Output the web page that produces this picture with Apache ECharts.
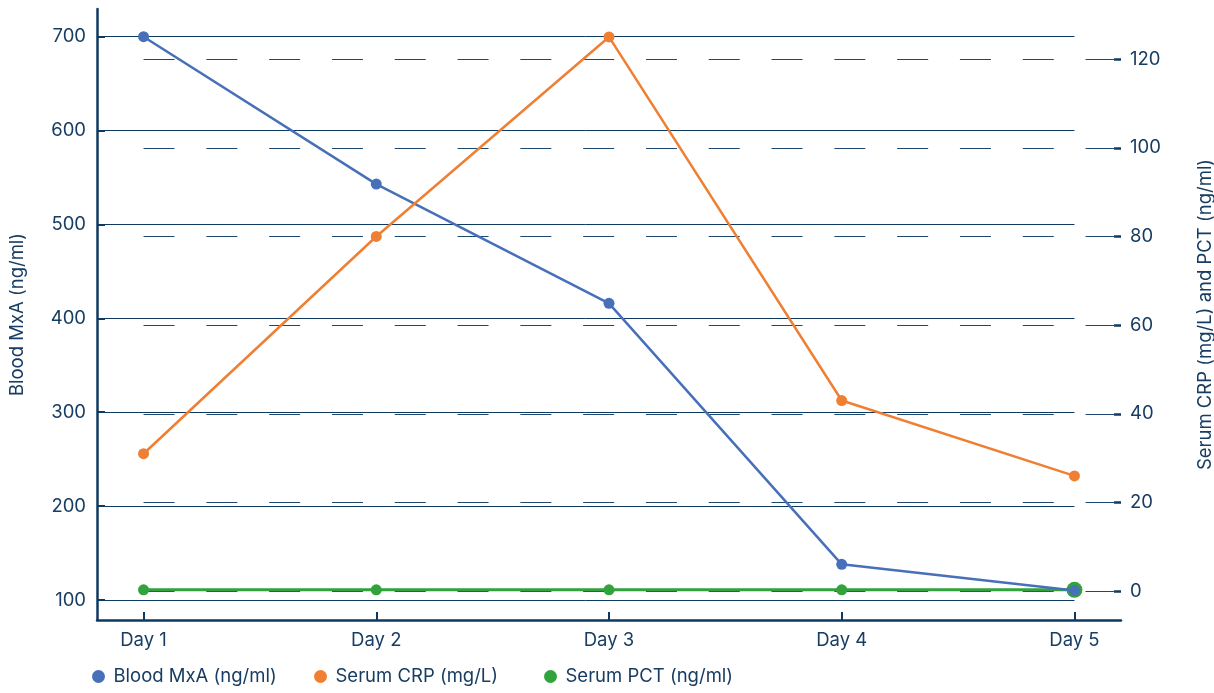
<!DOCTYPE html>
<html>
<head>
<meta charset="utf-8">
<script src="https://cdn.jsdelivr.net/npm/echarts@6/dist/echarts.min.js"></script>
<style>
html,body{margin:0;padding:0;background:#fff;}
#chart{width:1214px;height:693px;}
</style>
</head>
<body>
<div id="chart"></div>
<script>
const days = ['Day 1', 'Day 2', 'Day 3', 'Day 4', 'Day 5'];
const seriesNames = ['Blood MxA (ng/ml)', 'Serum CRP (mg/L)', 'Serum PCT (ng/ml)'];
const mxa = [700, 543, 416, 138, 110];
const crp = [31, 80, 125, 43, 26];
const pct = [0.3, 0.3, 0.3, 0.3, 0.3];
const leftTicks = [100, 200, 300, 400, 500, 600, 700];
const rightTicks = [0, 20, 40, 60, 80, 100, 120];
const dayPos = [1, 2, 3, 4, 5];

const X_MIN = 0.8, X_MAX = 5.2;
const NAVY = '#0f3a60';
const TEXT = '#183d62';
const FONT = 'Inter, "Noto Sans", sans-serif';
const FS = 18.5;
const legendLefts = [87, 309, 539];

const chart = echarts.init(document.getElementById('chart'));

const pts = arr => arr.map((v, i) => [dayPos[i], v]);

const option = {
  animation: false,
  grid: { left: 97, right: 93, top: 9, bottom: 73, containLabel: false, outerBoundsMode: 'none' },
  legend: seriesNames.map((n, i) => ({
    left: legendLefts[i], bottom: 2,
    itemWidth: 20, itemHeight: 13,
    icon: 'circle',
    textStyle: { color: TEXT, fontSize: FS, fontFamily: FONT },
    data: [n]
  })),
  xAxis: {
    type: 'value', min: X_MIN, max: X_MAX,
    axisLine: { show: true, onZero: false, lineStyle: { color: NAVY, width: 2.5 } },
    axisTick: { show: true, inside: true, length: 8, customValues: dayPos, lineStyle: { color: NAVY, width: 2 } },
    axisLabel: { customValues: dayPos, color: TEXT, fontSize: FS, fontFamily: FONT, margin: 11,
      formatter: v => days[Math.round(v) - 1] },
    splitLine: { show: false }
  },
  yAxis: [
    {
      type: 'value', position: 'left', min: 78.7, max: 729.5,
      name: seriesNames[0], nameLocation: 'middle', nameGap: 70,
      nameTextStyle: { color: TEXT, fontSize: FS, fontFamily: FONT },
      axisLine: { show: true, onZero: false, lineStyle: { color: NAVY, width: 2.5 } },
      axisTick: { show: true, inside: true, length: 8, customValues: leftTicks, lineStyle: { color: NAVY, width: 2 } },
      axisLabel: { customValues: leftTicks, color: TEXT, fontSize: FS, fontFamily: FONT, margin: 11 },
      splitLine: { show: false }
    },
    {
      type: 'value', position: 'right', min: -6.5, max: 131.3,
      name: 'Serum CRP (mg/L) and PCT (ng/ml)', nameLocation: 'middle', nameGap: 75,
      nameTextStyle: { color: TEXT, fontSize: FS, fontFamily: FONT },
      axisLine: { show: false, onZero: false },
      axisTick: { show: true, inside: true, length: 7, customValues: rightTicks, lineStyle: { color: NAVY, width: 2.5 } },
      axisLabel: { customValues: rightTicks, color: TEXT, fontSize: FS, fontFamily: FONT, margin: 9 },
      splitLine: { show: false }
    }
  ],
  series: [
    {
      name: seriesNames[0], type: 'line', yAxisIndex: 0, z: 3,
      data: pts(mxa),
      symbol: 'circle', symbolSize: 11,
      itemStyle: { color: '#4770b9' },
      lineStyle: { color: '#4770b9', width: 2.5 },
      markLine: {
        silent: true, z: 1, symbol: ['none', 'none'], label: { show: false },
        lineStyle: { type: 'solid', color: NAVY, width: 1 },
        emphasis: { disabled: true },
        data: leftTicks.map(v => [{ coord: [X_MIN, v] }, { coord: [dayPos[dayPos.length - 1], v] }])
      }
    },
    {
      name: seriesNames[1], type: 'line', yAxisIndex: 1, z: 4,
      data: pts(crp),
      symbol: 'circle', symbolSize: 11,
      itemStyle: { color: '#ef7f32' },
      lineStyle: { color: '#ef7f32', width: 2.5 },
      markLine: {
        silent: true, z: 1, symbol: ['none', 'none'], label: { show: false },
        lineStyle: { type: [31, 31.8], color: '#1d4870', width: 1 },
        emphasis: { disabled: true },
        data: rightTicks.map(v => [{ coord: [dayPos[0], v] }, { coord: [X_MAX, v] }])
      }
    },
    {
      name: seriesNames[2], type: 'line', yAxisIndex: 1, z: 2,
      data: pts(pct).map((p, i) => i === pct.length - 1 ? { value: p, symbolSize: 16 } : p),
      symbol: 'circle', symbolSize: 11,
      itemStyle: { color: '#32a23c' },
      lineStyle: { color: '#32a23c', width: 3 }
    }
  ]
};
chart.setOption(option);
</script>
</body>
</html>
